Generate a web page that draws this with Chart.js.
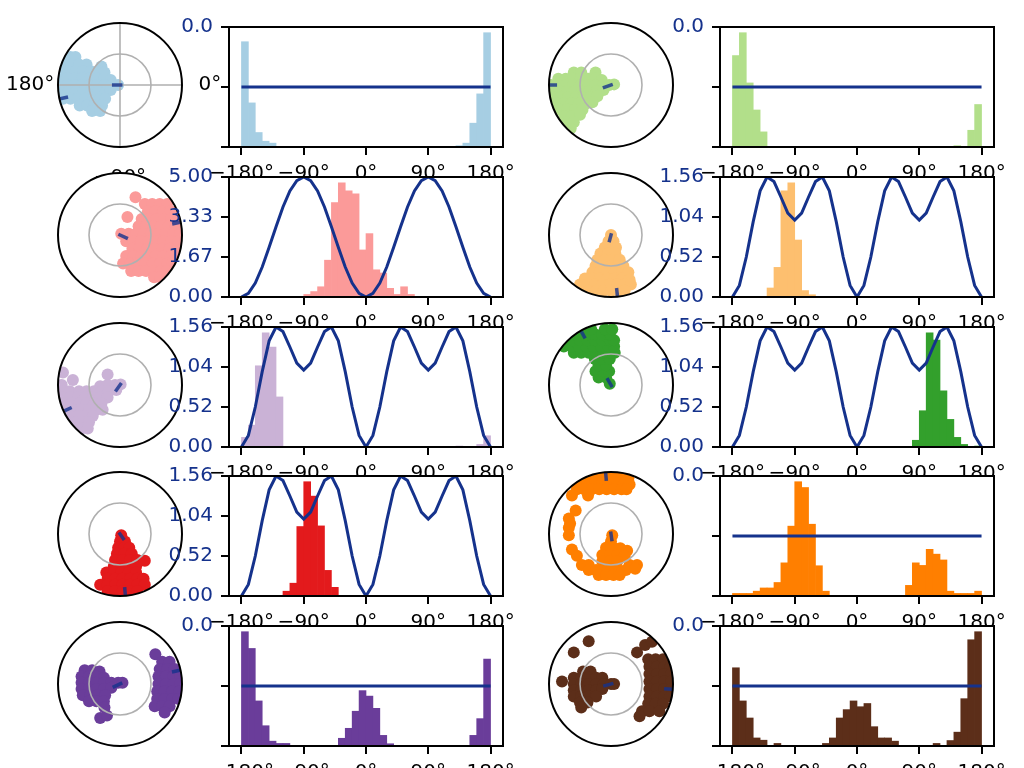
<!DOCTYPE html>
<html>
<head>
<meta charset="utf-8">
<script src="https://cdn.jsdelivr.net/npm/chart.js@4.4.1/dist/chart.umd.min.js"></script>
<style>
  html, body { margin: 0; padding: 0; background: #fff; }
  #fig { position: relative; width: 1024px; height: 768px; overflow: hidden; background: #fff; }
  #fig canvas { position: absolute; }
</style>
</head>
<body>
<div id="fig"></div>
<script>
// ---- data ----
const binCenters = [-175,-165,-155,-145,-135,-125,-115,-105,-95,-85,-75,-65,-55,-45,-35,-25,-15,-5,
                    5,15,25,35,45,55,65,75,85,95,105,115,125,135,145,155,165,175];
const curveAngles = [-180,-170,-160,-150,-140,-130,-120,-110,-100,-90,-80,-70,-60,-50,-40,-30,-20,-10,0,
                     10,20,30,40,50,60,70,80,90,100,110,120,130,140,150,160,170,180];
const flatAngles = [-180, 180];
const flatLevel = [0, 0];
const curveTwoPeak = [0,0.15,0.58,1.25,2.07,2.93,3.75,4.42,4.85,5.0,4.85,4.42,3.75,2.93,2.07,1.25,0.58,0.15,0,
                      0.15,0.58,1.25,2.07,2.93,3.75,4.42,4.85,5.0,4.85,4.42,3.75,2.93,2.07,1.25,0.58,0.15,0];
const curveFourPeak = [0,0.15,0.52,0.98,1.38,1.56,1.5,1.3,1.09,1.0,1.09,1.3,1.5,1.56,1.38,0.98,0.52,0.15,0,
                       0.15,0.52,0.98,1.38,1.56,1.5,1.3,1.09,1.0,1.09,1.3,1.5,1.56,1.38,0.98,0.52,0.15,0];

const xTickValues = [-180, -90, 0, 90, 180];
const xTickLabels = ['\u2212180°', '\u221290°', '0°', '90°', '180°'];
const yTicksFlat = [-1, 0, 1];
const yLabelsFlat = ['', '', '0.0'];
const yTicksTwo = [0, 1.667, 3.333, 5.0];
const yLabelsTwo = ['0.00', '1.67', '3.33', '5.00'];
const yTicksFour = [0, 0.52, 1.04, 1.56];
const yLabelsFour = ['0.00', '0.52', '1.04', '1.56'];
// angular labels of the first polar panel: [angle, text]
const thetaLabels = [[0, '0°'], [180, '180°'], [-90, '\u221290°']];

// histogram counts, 10 degree bins from -180
const hist1 = [327,137,45,18,12,0, 0,0,0,0,0,0, 0,0,0,0,0,0, 0,0,0,0,0,0, 0,0,0,0,0,0, 0,4,12,74,165,355];
const hist2 = [284,355,199,115,47,0, 0,0,0,0,0,0, 0,0,0,0,0,0, 0,0,0,0,0,0, 0,0,0,0,0,0, 0,0,4,0,52,132];
const hist3 = [0,0,0,0,0,0, 0,0,0,8,17,32, 115,295,357,332,322,147, 198,85,75,27,8,32, 8,0,0,0,0,0, 0,0,0,0,0,0];
const hist4 = [0,0,0,0,0,28, 92,330,355,177,20,7, 0,0,0,0,0,0, 0,0,0,0,0,0, 0,0,0,0,0,0, 0,0,0,0,0,0];
const hist5 = [30,68,253,356,311,156, 0,0,0,0,0,0, 0,0,0,0,0,0, 0,0,0,0,0,0, 0,0,0,0,0,0, 0,3,0,0,8,35];
const hist6 = [0,0,0,0,0,0, 0,0,0,0,0,0, 0,0,0,0,0,0, 0,0,0,0,0,0, 0,0,21,113,356,333, 175,86,30,8,0,3];
const hist7 = [0,0,0,0,0,0, 15,40,217,357,312,219, 80,27,0,0,0,0, 0,0,0,0,0,0, 0,0,0,0,0,0, 0,0,0,0,0,0];
const hist8 = [8,8,8,15,25,25, 42,103,217,355,337,223, 94,15,0,0,0,0, 0,0,0,0,0,0, 0,33,103,95,145,130, 112,15,8,8,8,15];
const hist9 = [355,303,140,63,15,8, 8,0,0,0,0,0, 0,0,24,55,108,172, 155,117,33,7,0,0, 0,0,0,0,0,0, 0,0,0,33,85,270];
const hist10 = [243,140,87,25,18,0, 8,0,0,0,0,0, 0,8,25,87,113,140, 122,132,60,25,25,15, 0,0,0,0,0,8, 0,17,43,147,330,355];

// polar clouds, unit vector components [x, y]
const cloud1 = [[-0.8,0.45],[-0.72,0.45],
  [-0.9,0.33],[-0.78,0.33],[-0.66,0.33],[-0.54,0.33],[-0.3,0.3],
  [-0.95,0.22],[-0.83,0.22],[-0.71,0.22],[-0.59,0.22],[-0.47,0.22],[-0.35,0.22],[-0.25,0.2],
  [-0.97,0.11],[-0.85,0.11],[-0.73,0.11],[-0.61,0.11],[-0.49,0.11],[-0.37,0.11],[-0.25,0.11],[-0.15,0.08],
  [-0.97,0],[-0.85,0],[-0.73,0],[-0.61,0],[-0.49,0],[-0.37,0],[-0.25,0],[-0.13,0],[-0.03,0],
  [-0.95,-0.11],[-0.83,-0.11],[-0.71,-0.11],[-0.59,-0.11],[-0.47,-0.11],[-0.35,-0.11],[-0.23,-0.11],[-0.15,-0.08],
  [-0.92,-0.22],[-0.8,-0.22],[-0.68,-0.22],[-0.56,-0.22],[-0.44,-0.22],[-0.32,-0.22],[-0.24,-0.22],
  [-0.65,-0.33],[-0.53,-0.33],[-0.41,-0.33],[-0.29,-0.33],[-0.45,-0.42],[-0.32,-0.42]];
const cloud2 = [[-0.6,0.2],[-0.48,0.2],[-0.25,0.2],
  [-0.85,0.1],[-0.73,0.1],[-0.61,0.1],[-0.49,0.1],[-0.37,0.1],[-0.25,0.1],[-0.15,0.08],
  [-0.97,0],[-0.85,0],[-0.73,0],[-0.61,0],[-0.49,0],[-0.37,0],[-0.25,0],[-0.13,0],[-0.03,0],[0.05,0.01],
  [-0.95,-0.1],[-0.83,-0.1],[-0.71,-0.1],[-0.59,-0.1],[-0.47,-0.1],[-0.35,-0.1],[-0.23,-0.1],[-0.12,-0.08],
  [-0.93,-0.2],[-0.81,-0.2],[-0.69,-0.2],[-0.57,-0.2],[-0.45,-0.2],[-0.33,-0.2],[-0.22,-0.18],
  [-0.88,-0.3],[-0.76,-0.3],[-0.64,-0.3],[-0.52,-0.3],[-0.4,-0.3],[-0.3,-0.28],
  [-0.82,-0.4],[-0.7,-0.4],[-0.58,-0.4],[-0.46,-0.4],
  [-0.75,-0.5],[-0.63,-0.5],[-0.5,-0.48],[-0.7,-0.6],[-0.6,-0.6],[-0.65,-0.7]];
const cloud3 = [[0.25,0.61],[0.12,0.29],
  [0.4,0.5],[0.52,0.5],[0.64,0.5],[0.76,0.5],
  [0.45,0.38],[0.57,0.38],[0.69,0.38],[0.81,0.38],[0.9,0.38],
  [0.35,0.26],[0.47,0.26],[0.59,0.26],[0.71,0.26],[0.83,0.26],[0.93,0.26],
  [0.3,0.14],[0.42,0.14],[0.54,0.14],[0.66,0.14],[0.78,0.14],[0.9,0.14],
  [0.02,0.02],[0.14,0.02],[0.26,0.02],[0.38,0.02],[0.5,0.02],[0.62,0.02],[0.74,0.02],[0.86,0.02],[0.97,0.02],
  [0.1,-0.1],[0.22,-0.1],[0.34,-0.1],[0.46,-0.1],[0.58,-0.1],[0.7,-0.1],[0.82,-0.1],[0.94,-0.1],
  [0.2,-0.22],[0.32,-0.22],[0.44,-0.22],[0.56,-0.22],[0.68,-0.22],[0.8,-0.22],[0.92,-0.22],
  [0.1,-0.34],[0.22,-0.34],[0.34,-0.34],[0.46,-0.34],[0.58,-0.34],[0.7,-0.34],[0.82,-0.34],[0.9,-0.34],
  [0.05,-0.46],[0.17,-0.46],[0.29,-0.46],[0.41,-0.46],[0.53,-0.46],[0.65,-0.46],[0.77,-0.46],[0.85,-0.46],
  [0.18,-0.58],[0.3,-0.58],[0.42,-0.58],[0.54,-0.58],[0.66,-0.58],[0.75,-0.58],[0.55,-0.68],[0.65,-0.68]];
const cloud4 = [[0,0],[-0.04,-0.1],[0.04,-0.1],[-0.1,-0.2],[0.02,-0.2],[0.08,-0.2],
  [-0.17,-0.3],[-0.05,-0.3],[0.07,-0.3],
  [-0.22,-0.4],[-0.1,-0.4],[0.02,-0.4],[0.14,-0.4],
  [-0.25,-0.5],[-0.13,-0.5],[-0.01,-0.5],[0.11,-0.5],[0.2,-0.5],
  [-0.3,-0.6],[-0.18,-0.6],[-0.06,-0.6],[0.06,-0.6],[0.18,-0.6],[0.28,-0.6],
  [-0.42,-0.7],[-0.3,-0.7],[-0.18,-0.7],[-0.06,-0.7],[0.06,-0.7],[0.18,-0.7],[0.3,-0.72],
  [-0.5,-0.8],[-0.38,-0.8],[-0.26,-0.8],[-0.14,-0.8],[-0.02,-0.8],[0.1,-0.8],[0.22,-0.8],[0.32,-0.8],
  [-0.36,-0.9],[-0.24,-0.9],[-0.12,-0.9],[0,-0.9],[0.12,-0.9],[0.22,-0.9]];
const cloud5 = [[-0.92,0.2],[-0.2,0.17],[-0.76,0.08],
  [-0.94,0],[-0.32,-0.02],[-0.2,0],[-0.08,0],[0.01,0.01],
  [-0.93,-0.1],[-0.81,-0.1],[-0.66,-0.1],[-0.54,-0.1],[-0.42,-0.1],[-0.3,-0.1],[-0.18,-0.1],[-0.06,-0.08],
  [-0.92,-0.2],[-0.8,-0.2],[-0.68,-0.2],[-0.56,-0.2],[-0.44,-0.2],[-0.32,-0.2],[-0.2,-0.2],
  [-0.9,-0.3],[-0.78,-0.3],[-0.66,-0.3],[-0.54,-0.3],[-0.42,-0.3],[-0.3,-0.3],
  [-0.86,-0.4],[-0.74,-0.4],[-0.62,-0.4],[-0.5,-0.4],[-0.38,-0.4],[-0.28,-0.4],
  [-0.8,-0.5],[-0.68,-0.5],[-0.56,-0.5],[-0.44,-0.5],
  [-0.72,-0.6],[-0.6,-0.6],[-0.5,-0.6],[-0.62,-0.7],[-0.52,-0.7]];
const cloud6 = [[-0.02,0.02],[-0.08,0.12],[-0.2,0.12],[-0.25,0.22],[-0.13,0.22],[-0.03,0.22],
  [-0.2,0.32],[-0.08,0.32],[-0.26,0.42],[-0.14,0.42],[-0.02,0.42],
  [-0.6,0.52],[-0.48,0.52],[-0.36,0.52],[-0.24,0.52],[-0.12,0.52],[0,0.52],[0.06,0.52],
  [-0.76,0.62],[-0.64,0.62],[-0.52,0.62],[-0.4,0.62],[-0.28,0.62],[-0.16,0.62],[-0.04,0.62],[0.05,0.62],
  [-0.62,0.72],[-0.5,0.72],[-0.38,0.72],[-0.26,0.72],[-0.14,0.72],[-0.02,0.72],[0.05,0.72],
  [-0.5,0.82],[-0.38,0.82],[-0.26,0.82],[-0.14,0.82],[-0.02,0.82],[-0.32,0.9],[-0.1,0.9],[0.02,0.9]];
const cloud7 = [[0.02,-0.02],[0,-0.12],[0.08,-0.12],[-0.03,-0.22],[0.07,-0.22],[0.15,-0.22],
  [-0.05,-0.32],[0.07,-0.32],[0.19,-0.32],
  [-0.08,-0.42],[0.04,-0.42],[0.16,-0.42],[0.28,-0.42],[0.4,-0.43],
  [-0.1,-0.52],[0.02,-0.52],[0.14,-0.52],[0.26,-0.52],
  [-0.22,-0.62],[-0.1,-0.62],[0.02,-0.62],[0.14,-0.62],[0.26,-0.62],
  [-0.2,-0.72],[-0.08,-0.72],[0.04,-0.72],[0.16,-0.72],[0.28,-0.72],[0.38,-0.72],
  [-0.32,-0.82],[-0.2,-0.82],[-0.08,-0.82],[0.04,-0.82],[0.16,-0.82],[0.28,-0.82],[0.4,-0.82],
  [-0.2,-0.92],[-0.08,-0.92],[0.04,-0.92],[0.16,-0.92],[0.28,-0.92]];
const cloud8 = [[-0.3,0.92],[-0.18,0.92],[-0.06,0.92],[0.06,0.92],[0.18,0.92],[0.28,0.9],
  [-0.5,0.82],[-0.38,0.82],[-0.26,0.82],[-0.14,0.82],[-0.02,0.82],[0.1,0.82],[0.22,0.82],[0.3,0.8],
  [-0.55,0.72],[-0.43,0.72],[-0.31,0.72],[-0.19,0.72],[-0.07,0.72],[0.05,0.72],[0.17,0.72],[0.25,0.72],
  [-0.63,0.62],[-0.37,0.62],
  [-0.57,0.38],[-0.68,0.25],[-0.66,0.17],[-0.68,0.1],[-0.68,-0.02],[-0.63,-0.25],[-0.55,-0.35],
  [-0.47,-0.5],[-0.36,-0.5],[0.3,-0.5],[0.42,-0.5],
  [-0.36,-0.58],[-0.24,-0.58],[-0.12,-0.58],[0,-0.58],[0.12,-0.58],[0.24,-0.58],[0.39,-0.56],
  [-0.2,-0.66],[-0.08,-0.66],[0.04,-0.66],[0.14,-0.66],
  [0.02,-0.02],[0,-0.12],[-0.08,-0.22],[0.04,-0.22],[0.15,-0.23],[0.26,-0.27],
  [-0.14,-0.34],[-0.02,-0.34],[0.1,-0.34],[0.22,-0.36],[-0.14,-0.44],[-0.02,-0.44],[0.1,-0.44]];
const cloud9 = [[-0.57,0.22],[-0.45,0.22],[-0.33,0.2],
  [-0.62,0.12],[-0.5,0.12],[-0.38,0.12],[-0.26,0.1],
  [-0.62,0.02],[-0.5,0.02],[-0.38,0.02],[-0.26,0.02],[-0.14,0.02],[-0.03,0.02],[0.04,0.02],
  [-0.62,-0.08],[-0.5,-0.08],[-0.38,-0.08],[-0.26,-0.08],[-0.14,-0.06],
  [-0.6,-0.18],[-0.48,-0.18],[-0.36,-0.18],[-0.24,-0.18],
  [-0.5,-0.28],[-0.38,-0.28],[-0.26,-0.28],[-0.25,-0.38],[-0.32,-0.55],[-0.21,-0.51],
  [0.57,0.48],[0.68,0.36],[0.8,0.36],[0.64,0.24],[0.76,0.24],[0.88,0.24],
  [0.62,0.12],[0.74,0.12],[0.86,0.12],[0.97,0.12],[0.62,0],[0.74,0],[0.86,0],[0.97,0],
  [0.6,-0.12],[0.72,-0.12],[0.84,-0.12],[0.96,-0.12],[0.6,-0.24],[0.72,-0.24],[0.84,-0.24],[0.94,-0.24],
  [0.56,-0.36],[0.68,-0.36],[0.8,-0.36],[0.72,-0.46]];
const cloud10 = [[-0.45,0.2],[-0.33,0.2],
  [-0.6,0.1],[-0.48,0.1],[-0.36,0.1],[-0.24,0.1],[-0.14,0.1],
  [-0.6,0],[-0.48,0],[-0.36,0],[-0.24,0],[-0.12,0],[0,0],[0.05,0],
  [-0.6,-0.1],[-0.48,-0.1],[-0.36,-0.1],[-0.24,-0.1],[-0.14,-0.08],
  [-0.6,-0.2],[-0.48,-0.2],[-0.36,-0.2],[-0.24,-0.2],
  [-0.5,-0.3],[-0.38,-0.3],[-0.48,-0.38],
  [-0.79,0.04],[-0.6,0.51],[-0.36,0.69],
  [0.42,0.51],[0.55,0.63],[0.66,0.68],
  [0.6,0.4],[0.72,0.4],[0.84,0.4],[0.62,0.28],[0.74,0.28],[0.86,0.28],[0.96,0.28],
  [0.62,0.16],[0.74,0.16],[0.86,0.16],[0.97,0.16],[0.62,0.04],[0.74,0.04],[0.86,0.04],[0.97,0.04],
  [0.62,-0.08],[0.74,-0.08],[0.86,-0.08],[0.97,-0.08],[0.62,-0.2],[0.74,-0.2],[0.86,-0.2],[0.96,-0.2],
  [0.6,-0.32],[0.72,-0.32],[0.84,-0.32],[0.5,-0.44],[0.62,-0.44],[0.78,-0.44],[0.46,-0.52]];

// mean direction marks: [angle deg, r from, r to]
const mean1 = [[180,-0.04,0.13],[-167,0.86,0.99]];
const mean2 = [[200,-0.03,0.14],[180,0.87,0.99]];
const mean3 = [[-25,-0.03,0.14],[12,0.86,0.99]];
const mean4 = [[-105,-0.03,0.12],[-84,0.86,0.99]];
const mean5 = [[235,-0.04,0.13],[-155,0.86,0.99]];
const mean6 = [[120,-0.04,0.13],[119,0.86,0.99]];
const mean7 = [[-55,-0.03,0.12],[-85,0.86,0.99]];
const mean8 = [[-82,-0.04,0.12],[95,0.86,0.99]];
const mean9 = [[205,-0.04,0.13],[13,0.86,0.99]];
const mean10 = [[195,-0.04,0.13],[-5,0.86,0.99]];

const colors = ['#a6cee3','#b2df8a','#fb9a99','#fdbf6f','#cab2d6','#33a02c','#e31a1c','#ff7f00','#6a3d9a','#5c2e19'];

// ---- drawing ----
var FONT = "'DejaVu Sans', sans-serif";
var NAVY = '#15328c';
var MEANCOL = 'rgba(21,50,140,0.8)';
var fig = document.getElementById('fig');

var makeCanvas = function(left, top, w, h) {
	var cv = document.createElement('canvas');
	cv.width = w; cv.height = h;
	cv.style.left = left + 'px';
	cv.style.top = top + 'px';
	cv.style.width = w + 'px';
	cv.style.height = h + 'px';
	fig.appendChild(cv);
	return cv;
};

// white axes background + four spines
var framePlugin = {
	id: 'frame',
	beforeDraw: function(chart) {
		var a = chart.chartArea, ctx = chart.ctx;
		ctx.save();
		ctx.fillStyle = '#fff';
		ctx.fillRect(a.left, a.top, a.right - a.left, a.bottom - a.top);
		ctx.restore();
	},
	afterDatasetsDraw: function(chart) {
		var a = chart.chartArea, ctx = chart.ctx;
		ctx.save();
		ctx.strokeStyle = '#000';
		ctx.lineWidth = 2;
		ctx.strokeRect(a.left, a.top, a.right - a.left, a.bottom - a.top);
		ctx.restore();
	}
};

var polarPlugin = {
	id: 'polarFrame',
	beforeDatasetsDraw: function(chart) {
		var ctx = chart.ctx, sx = chart.scales.x, sy = chart.scales.y;
		var cx = sx.getPixelForValue(0), cy = sy.getPixelForValue(0), R = sx.getPixelForValue(1) - cx;
		ctx.save();
		ctx.beginPath();
		ctx.arc(cx, cy, R, 0, Math.PI * 2);
		ctx.fillStyle = '#fff';
		ctx.fill();
		ctx.clip();
	},
	afterDatasetDraw: function(chart, args, opts) {
		if (args.index !== chart.data.datasets.length - 1) return;
		// grid sits above the dots, below the mean marks
		var ctx = chart.ctx, sx = chart.scales.x, sy = chart.scales.y;
		var cx = sx.getPixelForValue(0), cy = sy.getPixelForValue(0), R = sx.getPixelForValue(1) - cx;
		ctx.save();
		ctx.strokeStyle = '#b0b0b0';
		ctx.lineWidth = 1.6;
		ctx.beginPath();
		ctx.arc(cx, cy, R * 0.5, 0, Math.PI * 2);
		ctx.stroke();
		if (opts.grid) {
			ctx.beginPath();
			ctx.moveTo(cx - R, cy); ctx.lineTo(cx + R, cy);
			ctx.moveTo(cx, cy - R); ctx.lineTo(cx, cy + R);
			ctx.stroke();
		}
		ctx.restore();
	},
	afterDatasetsDraw: function(chart, args, opts) {
		var ctx = chart.ctx, sx = chart.scales.x, sy = chart.scales.y;
		ctx.restore();
		var cx = sx.getPixelForValue(0), cy = sy.getPixelForValue(0), R = sx.getPixelForValue(1) - cx;
		ctx.save();
		ctx.strokeStyle = '#000';
		ctx.lineWidth = 2;
		ctx.beginPath();
		ctx.arc(cx, cy, R, 0, Math.PI * 2);
		ctx.stroke();
		(opts.labels || []).forEach(function(l) {
			var t = l[0] * Math.PI / 180;
			var rr = l[0] === -90 ? 1.5 : 1.45;
			ctx.font = '20px ' + FONT;
			ctx.fillStyle = '#000';
			ctx.textAlign = 'center';
			ctx.textBaseline = 'middle';
			ctx.fillText(l[1], sx.getPixelForValue(rr * Math.cos(t)), sy.getPixelForValue(rr * Math.sin(t)));
		});
		ctx.restore();
	}
};

var drawPolar = function(cx, cy, color, cloud, means, grid, labels) {
	var R = 62, P = 70;
	var cv = makeCanvas(cx - R - P, cy - R - P, 2 * (R + P), 2 * (R + P));
	var sets = means.map(function(m) {
		var t = m[0] * Math.PI / 180;
		return {
			data: [{x: m[1] * Math.cos(t), y: m[1] * Math.sin(t)}, {x: m[2] * Math.cos(t), y: m[2] * Math.sin(t)}],
			showLine: true, borderColor: MEANCOL, borderWidth: 3.5, pointRadius: 0, borderCapStyle: 'butt'
		};
	});
	sets.push({
		data: cloud.map(function(v) { return {x: v[0], y: v[1]}; }),
		backgroundColor: color, borderColor: color, borderWidth: 0, pointRadius: 6, pointHoverRadius: 6
	});
	new Chart(cv, {
		type: 'scatter',
		data: {datasets: sets},
		options: {
			responsive: false, animation: false, devicePixelRatio: 1,
			layout: {padding: P},
			scales: {
				x: {display: false, min: -1, max: 1},
				y: {display: false, min: -1, max: 1}
			},
			plugins: {legend: {display: false}, tooltip: {enabled: false}, polarFrame: {grid: grid, labels: labels}}
		},
		plugins: [polarPlugin]
	});
};

var drawHist = function(left, top, color, counts, lineX, lineY, yTicks, yLabels) {
	var cv = makeCanvas(left - 70, top - 16, 374, 190);
	var bars = binCenters.map(function(c, i) { return {x: c, y: counts[i]}; });
	var line = lineX.map(function(a, i) { return {x: a, y: lineY[i]}; });
	new Chart(cv, {
		type: 'bar',
		data: {datasets: [
			{type: 'line', data: line, yAxisID: 'y', borderColor: NAVY, borderWidth: 3, pointRadius: 0, tension: 0, fill: false},
			{type: 'bar', data: bars, yAxisID: 'yb', backgroundColor: color, borderWidth: 0, barPercentage: 1, categoryPercentage: 1}
		]},
		options: {
			responsive: false, animation: false, devicePixelRatio: 1,
			layout: {padding: {top: 16, right: 30, left: 0, bottom: 0}},
			plugins: {legend: {display: false}, tooltip: {enabled: false}},
			scales: {
				x: {
					type: 'linear', min: -198, max: 198, offset: false,
					afterBuildTicks: function(s) { s.ticks = xTickValues.map(function(v) { return {value: v}; }); },
					afterFit: function(s) { s.height = 50; },
					ticks: {callback: function(v, i) { return xTickLabels[i]; }, color: '#000', font: {size: 20, family: FONT},
						maxRotation: 0, autoSkip: false, padding: 7},
					grid: {drawOnChartArea: false, drawTicks: true, tickLength: 8, color: '#000', lineWidth: 2, offset: false},
					border: {display: false}
				},
				y: {
					type: 'linear', position: 'left', min: yTicks[0], max: yTicks[yTicks.length - 1],
					afterBuildTicks: function(s) { s.ticks = yTicks.map(function(v) { return {value: v}; }); },
					afterFit: function(s) { s.width = 70; },
					ticks: {callback: function(v, i) { return yLabels[i]; }, color: NAVY, font: {size: 20, family: FONT}, padding: 8},
					grid: {drawOnChartArea: false, drawTicks: true, tickLength: 8, color: '#000', lineWidth: 2},
					border: {display: false}
				},
				yb: {type: 'linear', display: false, min: 0, max: Math.max.apply(null, counts) * 1.05}
			}
		},
		plugins: [framePlugin]
	});
};

// ---- layout: 5 rows, two (polar + histogram) pairs per row ----
var rowTops = [23, 172.8, 322.6, 472.4, 622.2];
var panels = [
	[hist1, cloud1, mean1, flatAngles, flatLevel, yTicksFlat, yLabelsFlat],
	[hist2, cloud2, mean2, flatAngles, flatLevel, yTicksFlat, yLabelsFlat],
	[hist3, cloud3, mean3, curveAngles, curveTwoPeak, yTicksTwo, yLabelsTwo],
	[hist4, cloud4, mean4, curveAngles, curveFourPeak, yTicksFour, yLabelsFour],
	[hist5, cloud5, mean5, curveAngles, curveFourPeak, yTicksFour, yLabelsFour],
	[hist6, cloud6, mean6, curveAngles, curveFourPeak, yTicksFour, yLabelsFour],
	[hist7, cloud7, mean7, curveAngles, curveFourPeak, yTicksFour, yLabelsFour],
	[hist8, cloud8, mean8, flatAngles, flatLevel, yTicksFlat, yLabelsFlat],
	[hist9, cloud9, mean9, flatAngles, flatLevel, yTicksFlat, yLabelsFlat],
	[hist10, cloud10, mean10, flatAngles, flatLevel, yTicksFlat, yLabelsFlat]
];

panels.forEach(function(p, k) {
	var row = Math.floor(k / 2), col = k % 2;
	var top = rowTops[row];
	var first = k === 0;
	drawPolar(col === 0 ? 119.5 : 611, top + 62, colors[k], p[1], p[2], first, first ? thetaLabels : []);
	drawHist(col === 0 ? 229 : 720, top, colors[k], p[0], p[3], p[4], p[5], p[6]);
});
</script>
</body>
</html>
